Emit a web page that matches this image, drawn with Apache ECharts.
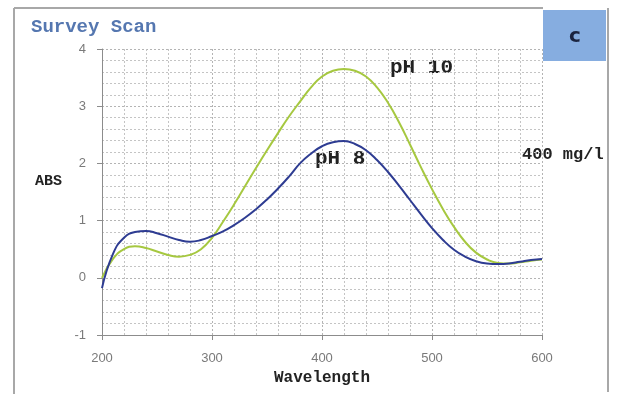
<!DOCTYPE html>
<html>
<head>
<meta charset="utf-8">
<script src="https://cdn.jsdelivr.net/npm/echarts@6/dist/echarts.min.js"></script>
<style>
html,body{margin:0;padding:0;background:#fff;}
#chart{width:617px;height:394px;}
</style>
</head>
<body>
<div id="chart"></div>
<script>
const wavelengths = [200,210,220,230,240,250,260,270,280,290,300,310,320,330,340,350,360,370,380,390,400,410,420,430,440,450,460,470,480,490,500,510,520,530,540,550,560,570,580,590,600];
const ph8 = [-0.18,0.42,0.70,0.80,0.82,0.78,0.72,0.66,0.63,0.66,0.73,0.81,0.92,1.05,1.20,1.37,1.56,1.77,2.00,2.17,2.30,2.37,2.39,2.34,2.23,2.06,1.85,1.61,1.36,1.11,0.87,0.66,0.49,0.37,0.29,0.25,0.24,0.25,0.28,0.31,0.33];
const ph10 = [0.0,0.33,0.50,0.55,0.52,0.46,0.40,0.37,0.40,0.50,0.70,0.98,1.28,1.60,1.92,2.23,2.53,2.82,3.08,3.33,3.52,3.62,3.65,3.62,3.52,3.33,3.06,2.72,2.33,1.93,1.55,1.20,0.89,0.63,0.44,0.32,0.26,0.25,0.27,0.30,0.32];
const xTicks = [200,300,400,500,600];
const yTicks = [-1,0,1,2,3,4];

const chart = echarts.init(document.getElementById('chart'), null, {renderer:'canvas'});
const mono = '"Liberation Mono", "DejaVu Sans Mono", monospace';
const gridLine = {show:true, lineStyle:{color:'#b4b4b4', type:[2,2], width:1}};
const minorLine = {show:true, lineStyle:{color:'#c4c4c4', type:[2,2], width:1}};
chart.setOption({
  animation:false,
  backgroundColor:'#ffffff',
  title:{
    text:'Survey Scan', left:26, top:13,
    textStyle:{fontFamily:mono, fontWeight:'bold', fontSize:19, color:'#5577b0'}
  },
  grid:{left:102, right:75, top:49, bottom:59, containLabel:false},
  xAxis:{
    type:'value', min:xTicks[0], max:xTicks[xTicks.length-1], interval:100,
    name:'Wavelength', nameLocation:'middle', nameGap:34,
    nameTextStyle:{fontFamily:mono, fontWeight:'bold', fontSize:16, color:'#222'},
    axisLine:{show:true, onZero:false, lineStyle:{color:'#8c8c8c', width:1}},
    axisTick:{show:true, length:5, lineStyle:{color:'#8c8c8c'}},
    minorTick:{show:false, splitNumber:5},
    axisLabel:{color:'#7a7a7a', fontSize:13, fontFamily:'"Liberation Sans", sans-serif', margin:17},
    splitLine:gridLine,
    minorSplitLine:minorLine
  },
  yAxis:{
    type:'value', min:yTicks[0], max:yTicks[yTicks.length-1], interval:1,
    axisLine:{show:true, onZero:false, lineStyle:{color:'#8c8c8c', width:1}},
    axisTick:{show:true, length:5, lineStyle:{color:'#8c8c8c'}},
    minorTick:{show:false, splitNumber:5},
    axisLabel:{color:'#7a7a7a', fontSize:13, fontFamily:'"Liberation Sans", sans-serif', margin:16},
    splitLine:gridLine,
    minorSplitLine:minorLine
  },
  series:[
    {name:'pH 10', type:'line', smooth:0.5, showSymbol:false,
     data:wavelengths.map((w,i)=>[w,ph10[i]]),
     lineStyle:{color:'#a6c840', width:2}, itemStyle:{color:'#a6c840'}},
    {name:'pH 8', type:'line', smooth:0.5, showSymbol:false,
     data:wavelengths.map((w,i)=>[w,ph8[i]]),
     lineStyle:{color:'#2e3c92', width:2}, itemStyle:{color:'#2e3c92'}}
  ],
  graphic:[
    {type:'line', shape:{x1:14,y1:8,x2:14,y2:394}, style:{stroke:'#a8a8a8', lineWidth:2}},
    {type:'line', shape:{x1:14,y1:8,x2:543,y2:8}, style:{stroke:'#a8a8a8', lineWidth:2}},
    {type:'line', shape:{x1:608,y1:8,x2:608,y2:392}, style:{stroke:'#a8a8a8', lineWidth:2}},
    {type:'rect', shape:{x:543,y:10,width:63,height:51}, style:{fill:'#86ade0'}},
    {type:'text', x:575, y:37, style:{text:'c', fill:'#1b2440', font:'bold 20px "DejaVu Sans", sans-serif', textAlign:'center', textVerticalAlign:'middle'}},
    {type:'text', x:390, y:68, style:{text:'pH 10', fill:'#222', font:'bold 21px '+mono, textAlign:'left', textVerticalAlign:'middle'}},
    {type:'text', x:315, y:159, style:{text:'pH 8', fill:'#222', font:'bold 21px '+mono, textAlign:'left', textVerticalAlign:'middle'}},
    {type:'text', x:522, y:155, style:{text:'400 mg/l', fill:'#222', font:'bold 17px '+mono, textAlign:'left', textVerticalAlign:'middle'}},
    {type:'text', x:35, y:181, style:{text:'ABS', fill:'#222', font:'bold 15px '+mono, textAlign:'left', textVerticalAlign:'middle'}}
  ]
});
</script>
</body>
</html>
